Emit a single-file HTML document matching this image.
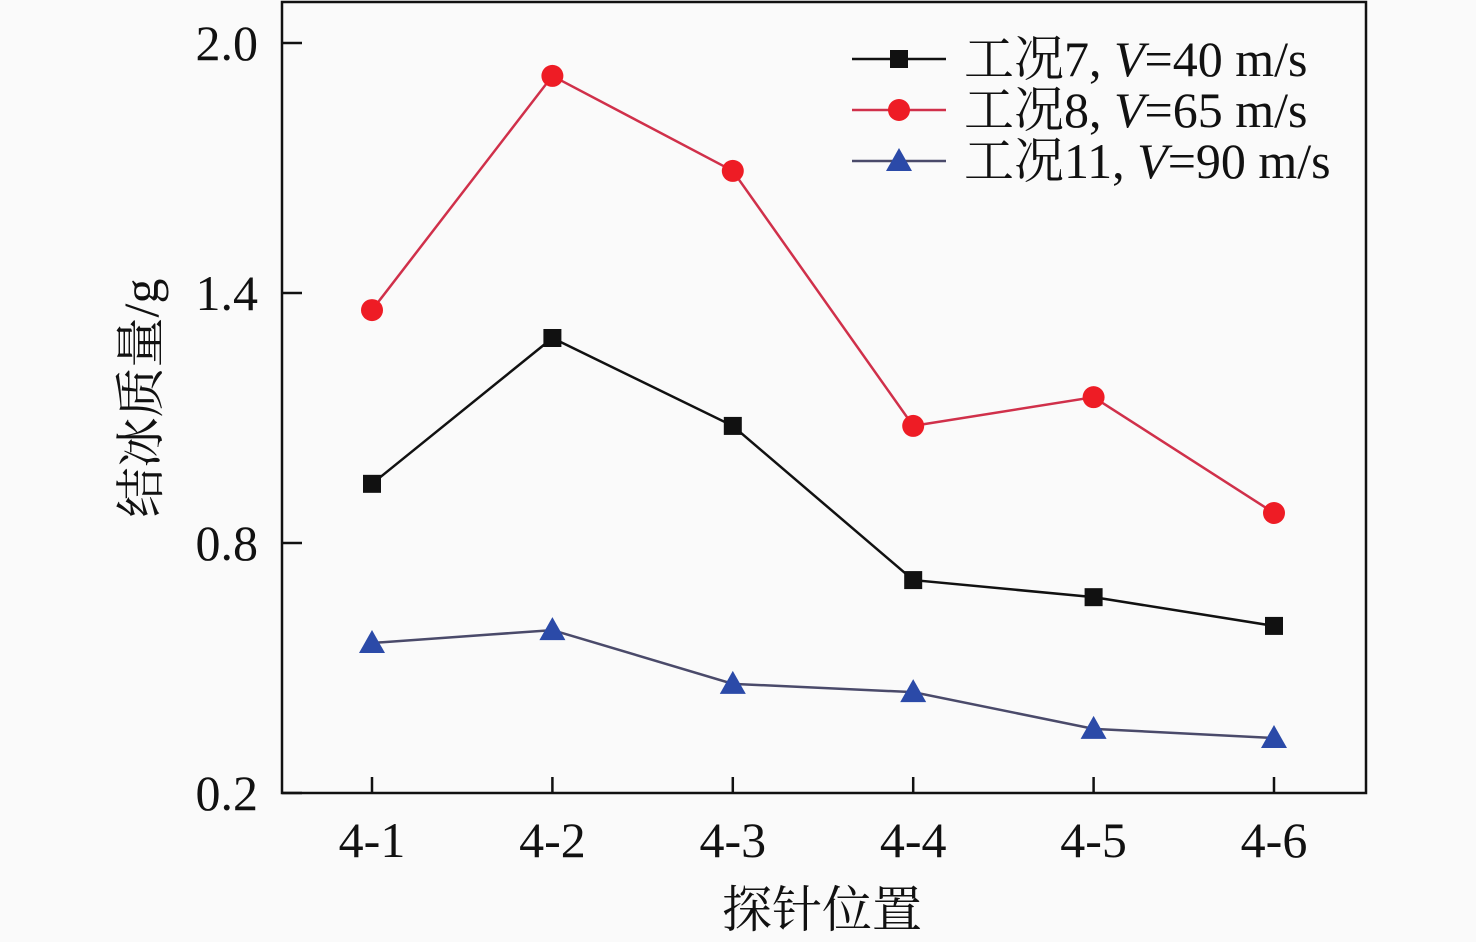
<!DOCTYPE html>
<html><head><meta charset="utf-8"><style>
body{margin:0;background:#fafafa;}
svg{display:block;font-family:"Liberation Serif","Noto Serif CJK SC",serif;}
</style></head><body>
<svg id="c" width="1476" height="942">
<rect x="0" y="0" width="1476" height="942" fill="#fafafa"/>
<g id="g"></g>
</svg>
<script>
const categories=["4-1","4-2","4-3","4-4","4-5","4-6"];
const case7=[0.942,1.292,1.081,0.711,0.670,0.601];
const case8=[1.359,1.921,1.693,1.081,1.150,0.872];
const case11=[0.560,0.591,0.462,0.442,0.354,0.332];
const yTicks=[0.2,0.8,1.4,2.0];
const yTickLabels=["0.2","0.8","1.4","2.0"];
const NS="http://www.w3.org/2000/svg";
const g=document.getElementById('g');
const L=282,R=1366,T=2,B=793;
function xs(i){return 372+i*180.4;}
function ys(v){return 793-(v-0.2)*416.67;}
function mk(tag,at,parent){const e=document.createElementNS(NS,tag);for(const k in at)e.setAttribute(k,at[k]);(parent||g).appendChild(e);return e;}
let f=mk('rect',{x:L,y:T,width:R-L,height:B-T,fill:'none',stroke:'#111','stroke-width':2.5});


yTicks.forEach((v,i)=>{
 let t=mk('line',{x1:L,x2:L+20,y1:ys(v),y2:ys(v),stroke:'#111','stroke-width':2.5});
 
 
 let l=mk('text',{x:258,y:ys(v)+17,'text-anchor':'end','font-size':50,fill:'#111'});
 l.textContent=yTickLabels[i];
 
 
});
categories.forEach((c,i)=>{
 let t=mk('line',{x1:xs(i),x2:xs(i),y1:B,y2:B-16,stroke:'#111','stroke-width':2.5});
 
 
 let l=mk('text',{x:xs(i),y:857,'text-anchor':'middle','font-size':50,fill:'#111'});
 l.textContent=c;
 
 
});
let xt=mk('text',{x:822,y:927,'text-anchor':'middle','font-size':50,fill:'#111'});
xt.textContent='探针位置';


let yt=mk('text',{x:0,y:0,'text-anchor':'middle','font-size':50,fill:'#111',transform:'translate(158,398) rotate(-90)'});
yt.textContent='结冰质量/g';


function marker(type,x,y,color,name){
 let e;
 if(type==='sq')e=mk('rect',{x:x-9,y:y-9,width:18,height:18,fill:color});
 else if(type==='ci')e=mk('circle',{cx:x,cy:y,r:11,fill:color});
 else e=mk('polygon',{points:`${x},${y-13} ${x-13},${y+10} ${x+13},${y+10}`,fill:color});
 
 
}
const series=[[case7,'#111','#111','sq','case7'],[case8,'#d0304a','#ee1c25','ci','case8'],[case11,'#4a4a6a','#2b4aa8','tr','case11']];
series.forEach(([d,lc,mc,t,n])=>{
 let p=mk('polyline',{points:d.map((v,i)=>xs(i)+','+ys(v)).join(' '),fill:'none',stroke:lc,'stroke-width':2.5});
 
 
 d.forEach((v,i)=>marker(t,xs(i),ys(v),mc,n+'-point'));
});
const legendLabels=[['工况7, ','V','=40 m/s'],['工况8, ','V','=65 m/s'],['工况11, ','V','=90 m/s']];
legendLabels.forEach((lab,i)=>{
 const y=59+i*51;const s=series[i];
 let ln=mk('line',{x1:852,x2:946,y1:y,y2:y,stroke:s[1],'stroke-width':2.5});
 
 
 marker(s[3],899,y,s[2],'legend-marker');
 let tx=mk('text',{x:964,y:y+17,'font-size':50,fill:'#111'});
 
 
 const a=mk('tspan',{},tx);a.textContent=lab[0];
 const b=mk('tspan',{'font-style':'italic'},tx);b.textContent=lab[1];
 const c=mk('tspan',{},tx);c.textContent=lab[2];
});
</script>
</body></html>
